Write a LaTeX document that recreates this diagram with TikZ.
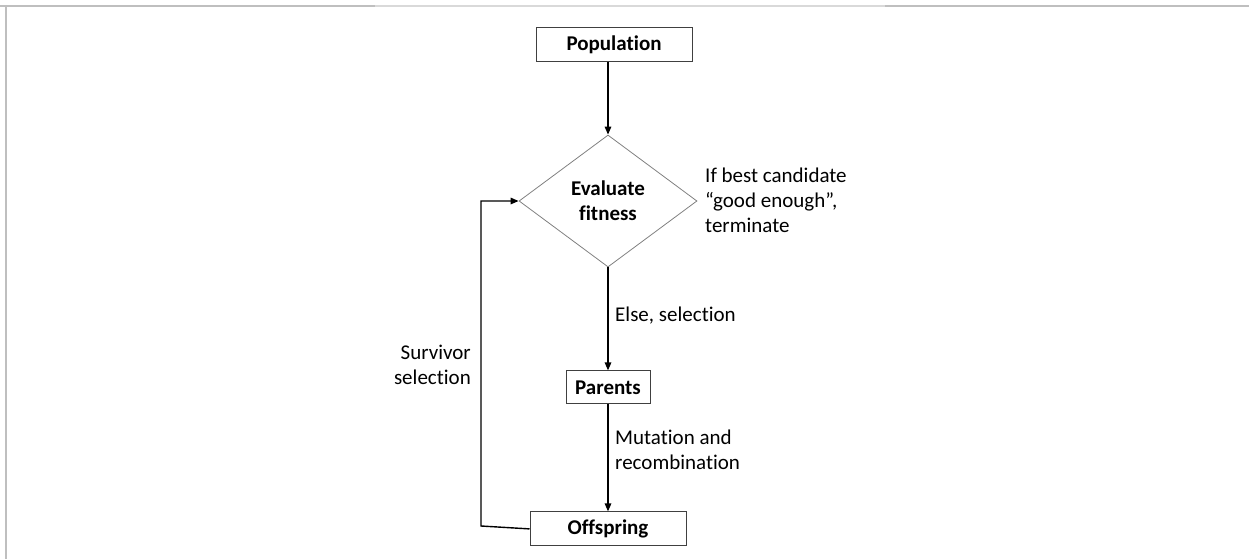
\documentclass[tikz,border=0pt]{standalone}
\usepackage{fontspec}
\setmainfont{Carlito}[Ligatures=NoCommon]
\usetikzlibrary{positioning,arrows.meta,shapes.geometric}

\begin{document}
\begin{tikzpicture}[
  x=1pt, y=-1pt,
  node distance=100pt,
  font=\fontsize{21}{25}\selectfont,
  box/.style={draw=black!75, line width=1pt, minimum width=156pt,
              minimum height=34pt, inner sep=0pt, font=\fontsize{21}{25}\selectfont\bfseries},
  decide/.style={diamond, draw=black!50, line width=0.8pt, minimum width=178pt,
                 minimum height=132pt, inner sep=0pt, align=center,
                 font=\fontsize{21}{25}\selectfont\bfseries},
  arr/.style={-{Triangle[length=8pt,width=6.5pt]}, line width=1.4pt},
  lbl/.style={inner sep=0pt},
  frame/.style={line width=2pt, draw=black!25}
]
\useasboundingbox (0,0) rectangle (1249,559);
% frame edges
\draw[frame] (0,6) -- (375,6);
\draw[frame, draw=black!15] (375,6) -- (885,6);
\draw[frame] (885,6) -- (1249,6);
\draw[frame] (6,5) -- (6,559);

\node[box] (pop) at (614,45) {Population};
\node[decide] (eval) at (608,201) {Evaluate\\fitness};
\node[box, minimum width=84pt, minimum height=33pt, below=103pt of eval] (par) {Parents};
\node[box, below=107pt of par] (off) {Offspring};
\coordinate (turn) at (481,526);

\draw[arr] (eval.north |- pop.south) -- (eval.north);
\draw[arr] (eval.south) -- (par.north);
\draw[arr] (par.south) -- (off.north);
\draw[arr] (off.west) -- (turn) |- (eval.west);

\node[lbl, anchor=west, align=left] (stop) at (705,200)
  {If best candidate\\“good enough”,\\terminate};
\node[lbl, anchor=west] (sel) at (615,316) {Else, selection};
\node[lbl, anchor=west, align=left] (mut) at (615,450) {Mutation and\\recombination};
\node[lbl, anchor=east, align=right] (surv) at (471,365) {Survivor\\selection};
\end{tikzpicture}
\end{document}
